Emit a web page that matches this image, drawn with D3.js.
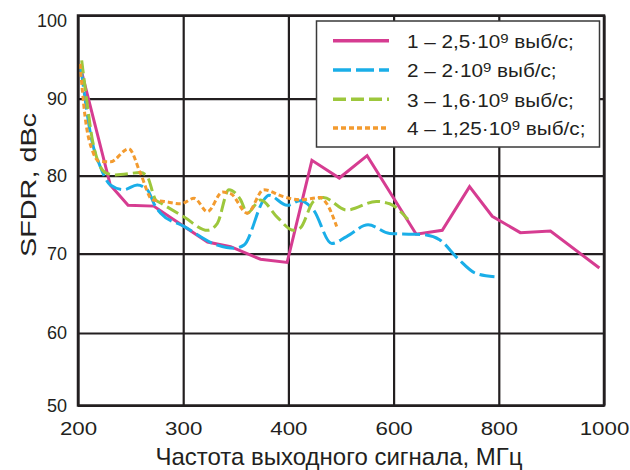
<!DOCTYPE html>
<html>
<head>
	<meta charset="utf-8">
	<title>SFDR</title>
	<script src="https://d3js.org/d3.v7.min.js" charset="utf-8"></script>
	<style>
		body { margin: 0; background: #fff; }
		text { font-family: "Liberation Sans", Arial, sans-serif; fill: #231f20; }
	</style>
</head>
<body>
	<svg width="630" height="470"></svg>
	<script>
		// tick values (x axis is not uniform: 200,300,400 then step 200)
		const xTicks = [200, 300, 400, 600, 800, 1000];
		const yTicks = [50, 60, 70, 80, 90, 100];

		// 1 - 2.5e9 S/s
		const s1x = [203.5, 230.7, 247.6, 272, 288.3, 323.1, 345.1, 373.5, 398.8, 444.7, 496.8, 549.6, 643, 692.5, 744.4, 787.5, 840.9, 898.2, 991.2];
		const s1y = [93.2, 78.8, 76.2, 76.1, 74.6, 71.5, 70.9, 69.3, 68.9, 82.0, 79.7, 82.6, 72.5, 73.0, 78.6, 74.8, 72.7, 72.9, 68.2];
		// 2 - 2e9 S/s
		const s2x = [202.9, 213.1, 221.1, 230.7, 243.4, 256.3, 265.9, 273.8, 278.6, 300.7, 332.5, 348.2, 357.7, 376.6, 381.4, 398.8, 422.6, 447.7, 482.4, 510.7, 551.5, 592.5, 636.6, 662, 687.3, 722, 757, 791.8];
		const s2y = [93.6, 84.6, 81.2, 78.8, 78.2, 78.8, 78.2, 76.0, 75.2, 73.5, 71.1, 70.7, 71.1, 76.9, 77.5, 76.2, 76.8, 75.6, 71.3, 72.2, 73.7, 72.6, 72.5, 72.4, 71.8, 69.4, 67.5, 67.1];
		// 3 - 1.6e9 S/s
		const s3x = [203.5, 208.3, 213.1, 221.1, 227.5, 235.5, 259.4, 265.8, 273.8, 278.6, 300.9, 323.1, 332.5, 343.5, 354.6, 360.9, 373.5, 389.3, 410, 422.6, 447.7, 466.6, 510.7, 567.3, 592.5, 627.2];
		const s3y = [94.6, 89.8, 85.1, 81.2, 80.3, 80.1, 80.4, 79.9, 76.9, 76.5, 74.7, 73.0, 73.9, 78.2, 76.9, 75.2, 76.9, 74.7, 73.0, 73.3, 76.7, 77.2, 75.6, 76.7, 76.4, 74.4];
		// 4 - 1.25e9 S/s
		const s4x = [201.9, 206.7, 214.7, 219.5, 230.7, 248.2, 259.4, 270.7, 281.8, 297.8, 310.4, 323.1, 337.3, 345.1, 360.9, 376.6, 395.5, 422.6, 460.3, 473, 491.8];
		const s4y = [94.2, 87.7, 82.9, 81.9, 81.8, 83.5, 80.3, 76.9, 76.7, 76.4, 77.1, 75.4, 77.9, 77.7, 75.2, 78.2, 77.3, 76.9, 77.2, 76.4, 73.5];

		const legendLabels = ["1 – 2,5·10", "2 – 2·10", "3 – 1,6·10", "4 – 1,25·10"];

		const series = [
			{ x: s1x, y: s1y, color: "#d63c91", dash: null, curve: d3.curveLinear },
			{ x: s2x, y: s2y, color: "#1aaee8", dash: "18,5", curve: d3.curveMonotoneX },
			{ x: s3x, y: s3y, color: "#9dc73c", dash: "13,5", curve: d3.curveMonotoneX },
			{ x: s4x, y: s4y, color: "#f39b2f", dash: "5,3", curve: d3.curveMonotoneX }
		];

		const plotL = 78, plotR = 604, plotT = 15.5, plotB = 405.5;
		const svg = d3.select('svg');

		// the original lettering is wider than Liberation Sans: stretch it
		function stretch(sel, k) {
			sel.each(function() {
				const w = this.getComputedTextLength();
				d3.select(this).attr('textLength', w * k).attr('lengthAdjust', 'spacingAndGlyphs');
			});
		}

		// piecewise scales: every tick gets the same spacing
		const xScale = d3.scaleLinear()
			.domain(xTicks)
			.range(xTicks.map((d, i) => plotL + i * (plotR - plotL) / (xTicks.length - 1)));
		const yScale = d3.scaleLinear()
			.domain(yTicks)
			.range([plotB, 333, 253.7, 175.7, 98.7, plotT]);

		// grid
		svg.append('g')
			.attr('transform', `translate(0, ${plotB})`)
			.call(d3.axisBottom(xScale).tickValues(xTicks).tickSize(-(plotB - plotT)).tickFormat(d => d).tickPadding(16))
			.call(g => g.select('.domain').remove())
			.call(g => g.selectAll('line').attr('stroke', '#231f20').attr('stroke-width', 2.2))
			.call(g => g.selectAll('text').attr('font-size', 18.6).attr('fill', '#231f20')
				.attr('font-family', '"Liberation Sans", Arial, sans-serif'))
			.call(g => stretch(g.selectAll('text'), 1.2));

		svg.append('g')
			.attr('transform', `translate(${plotL}, 0)`)
			.call(d3.axisLeft(yScale).tickValues(yTicks).tickSize(-(plotR - plotL)).tickPadding(11))
			.call(g => g.select('.domain').remove())
			.call(g => g.selectAll('line').attr('stroke', '#231f20').attr('stroke-width', 2.2))
			.call(g => g.selectAll('text').attr('font-size', 18).attr('fill', '#231f20')
				.attr('font-family', '"Liberation Sans", Arial, sans-serif'))
			.call(g => g.selectAll('text').filter(d => d === 100).attr('y', 5));

		// lines
		series.forEach(s => {
			const line = d3.line()
				.x((d, i) => xScale(s.x[i]))
				.y(d => yScale(d))
				.curve(s.curve);
			svg.append('path')
				.attr('d', line(s.y))
				.attr('fill', 'none')
				.attr('stroke', s.color)
				.attr('stroke-width', 3)
				.attr('stroke-dasharray', s.dash);
		});

		// frame
		svg.append('rect')
			.attr('x', plotL).attr('y', plotT)
			.attr('width', plotR - plotL).attr('height', plotB - plotT)
			.attr('fill', 'none').attr('stroke', '#231f20').attr('stroke-width', 2.5);

		// legend
		const lg = svg.append('g');
		lg.append('rect')
			.attr('x', 316.5).attr('y', 21)
			.attr('width', 283).attr('height', 126)
			.attr('fill', '#fff').attr('stroke', '#3a3a3a').attr('stroke-width', 1.5);
		const rows = [40.7, 70, 99.3, 128];
		series.forEach((s, i) => {
			lg.append('line')
				.attr('x1', 333).attr('x2', 389)
				.attr('y1', rows[i]).attr('y2', rows[i])
				.attr('stroke', s.color).attr('stroke-width', 3.5)
				.attr('stroke-dasharray', s.dash);
			const t = lg.append('text')
				.attr('x', 407).attr('y', rows[i] + 7.3)
				.attr('font-size', 18);
			t.append('tspan').text(legendLabels[i]);
			t.append('tspan').attr('dy', -5).attr('font-size', 13).text('9');
			t.append('tspan').attr('dy', 5).text(' выб/с;');
			stretch(t, 1.15);
		});

		// axis titles
		svg.append('text')
			.attr('x', 339).attr('y', 464.5)
			.attr('text-anchor', 'middle')
			.attr('font-size', 24)
			.text('Частота выходного сигнала, МГц');

		svg.append('text')
			.attr('transform', 'translate(36, 185) rotate(-90)')
			.attr('text-anchor', 'middle')
			.attr('font-size', 22.5)
			.text('SFDR, dBc')
			.call(t => stretch(t, 1.28));
	</script>
</body>
</html>
